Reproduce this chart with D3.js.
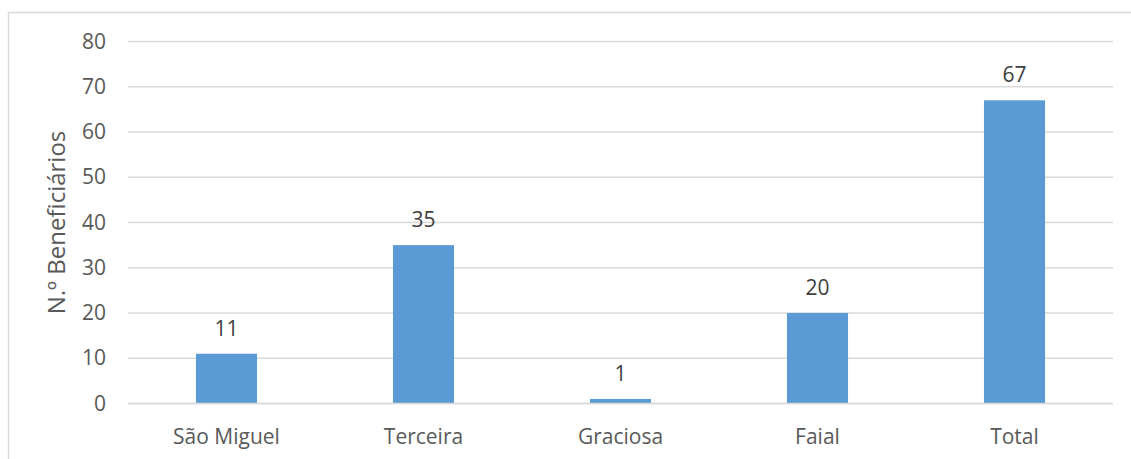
<!DOCTYPE html>
<html><head><meta charset="utf-8">
<script src="https://cdn.jsdelivr.net/npm/d3@7"></script>
<style>body{margin:0;background:#fff}svg{display:block}</style>
</head><body>
<script>
const categories = ["São Miguel", "Terceira", "Graciosa", "Faial", "Total"];
const values = [11, 35, 1, 20, 67];
const yTicks = [0, 10, 20, 30, 40, 50, 60, 70, 80];
const yTitle = "N.º Beneficiários";

const W = 1131, H = 459;
const m = {left: 128, right: 1113, top: 41.5, bottom: 403.5};
const font = "'Open Sans', sans-serif";
const txt = "#595959";

const svg = d3.select("body").append("svg").attr("width", W).attr("height", H);
svg.append("rect").attr("x", 8.5).attr("y", 12.5).attr("width", W).attr("height", H)
  .attr("fill", "#fff").attr("stroke", "#d9d9d9").attr("stroke-width", 1.5);

const x = d3.scaleBand().domain(categories).range([m.left, m.right]).paddingInner(0.69).paddingOuter(0.345);
const y = d3.scaleLinear().domain([0, 80]).range([m.bottom, m.top]);

// gridlines
svg.append("g").selectAll("line").data(yTicks).join("line")
  .attr("x1", m.left).attr("x2", m.right)
  .attr("y1", d => y(d)).attr("y2", d => y(d))
  .attr("stroke", "#d9d9d9").attr("stroke-width", 1.5);

// y axis labels
const yAxis = d3.axisLeft(y).tickValues(yTicks).tickSize(0).tickPadding(0);
const gy = svg.append("g").attr("transform", `translate(106,0)`).call(yAxis);
gy.select(".domain").remove();
gy.selectAll("text").attr("font-family", font).attr("font-size", 21).attr("fill", txt);

// bars
svg.append("g").selectAll("rect").data(values).join("rect")
  .attr("x", (d, i) => x(categories[i]))
  .attr("width", x.bandwidth())
  .attr("y", d => y(d))
  .attr("height", d => y(0) - y(d))
  .attr("fill", "#5b9bd5");

// zero line on top
svg.append("line").attr("x1", m.left).attr("x2", m.right)
  .attr("y1", y(0)).attr("y2", y(0)).attr("stroke", "#d9d9d9").attr("stroke-width", 1.5);

// data labels
svg.append("g").selectAll("text").data(values).join("text")
  .attr("x", (d, i) => x(categories[i]) + x.bandwidth() / 2)
  .attr("y", d => y(d) - 18)
  .attr("text-anchor", "middle")
  .attr("font-family", font).attr("font-size", 21).attr("fill", "#404040")
  .text(d => d);

// x axis labels
const xAxis = d3.axisBottom(x).tickSize(0).tickPadding(0);
const gx = svg.append("g").attr("transform", `translate(0,${m.bottom})`).call(xAxis);
gx.select(".domain").remove();
gx.selectAll("text").attr("dy", null).attr("y", 40)
  .attr("font-family", font).attr("font-size", 21).attr("fill", txt);

// y title
svg.append("text").attr("transform", `translate(65,${(m.top + m.bottom) / 2}) rotate(-90)`)
  .attr("text-anchor", "middle")
  .attr("font-family", font).attr("font-size", 24).attr("fill", txt)
  .text(yTitle);
</script>
</body></html>
